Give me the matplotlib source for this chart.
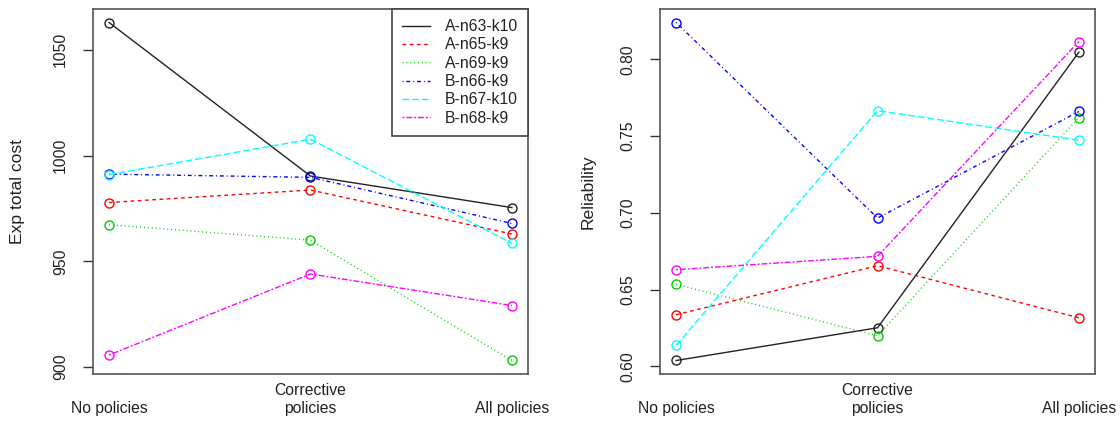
import matplotlib
matplotlib.use('Agg')
import matplotlib.pyplot as plt

plt.rcParams['font.family'] = ['Liberation Sans', 'DejaVu Sans']

# Категории по оси X
scenarios = ['No policies', 'Corrective\npolicies', 'All policies']

# Названия серий
series_names = ['A-n63-k10', 'A-n65-k9', 'A-n69-k9', 'B-n66-k9', 'B-n67-k10', 'B-n68-k9']

# Ожидаемая суммарная стоимость
cost_a_n63_k10 = [1062.9, 990.3, 975.4]
cost_a_n65_k9 = [977.8, 983.7, 962.9]
cost_a_n69_k9 = [967.3, 960.0, 903.1]
cost_b_n66_k9 = [991.2, 989.7, 967.9]
cost_b_n67_k10 = [991.0, 1007.7, 958.5]
cost_b_n68_k9 = [905.7, 944.0, 929.1]

# Надёжность
rel_a_n63_k10 = [0.6039, 0.6252, 0.8046]
rel_a_n65_k9 = [0.6337, 0.6656, 0.6317]
rel_a_n69_k9 = [0.6535, 0.6200, 0.7620]
rel_b_n66_k9 = [0.8239, 0.6966, 0.7660]
rel_b_n67_k10 = [0.6137, 0.7665, 0.7473]
rel_b_n68_k9 = [0.6630, 0.6717, 0.8115]

cost_series = [cost_a_n63_k10, cost_a_n65_k9, cost_a_n69_k9,
               cost_b_n66_k9, cost_b_n67_k10, cost_b_n68_k9]
rel_series = [rel_a_n63_k10, rel_a_n65_k9, rel_a_n69_k9,
              rel_b_n66_k9, rel_b_n67_k10, rel_b_n68_k9]

# Стили как в R: lty 1..6, цвета 1..6
colors = ['#222222', '#FF0000', '#00CD00', '#0000FF', '#00FFFF', '#FF00FF']
styles = ['-', (0, (2.6, 2.6)), (0, (0.7, 2.1)), (0, (0.7, 2.1, 2.8, 2.1)),
          (0, (4.9, 2.1)), (0, (1.4, 1.4, 4.2, 1.4))]

fig = plt.figure(figsize=(11.2, 4.22), dpi=100)
ax1 = fig.add_axes([0.0830, 0.1137, 0.3884, 0.865])
ax2 = fig.add_axes([0.5893, 0.1137, 0.3884, 0.865])

x = [1, 2, 3]
fs = 11.3
fs_lab = 12.6
txt_col = '#222222'

for ax, data, ylabel in [(ax1, cost_series, 'Exp total cost'),
                         (ax2, rel_series, 'Reliability')]:
    for vals, name, col, ls in zip(data, series_names, colors, styles):
        ax.plot(x, vals, color=col, linestyle=ls, linewidth=1.0,
                marker='o', markersize=6.5, markerfacecolor='none',
                markeredgewidth=1.0, label=name)

    # Поля как в R (4%)
    lo = min(min(v) for v in data)
    hi = max(max(v) for v in data)
    pad = (hi - lo) * 0.04
    ax.set_ylim(lo - pad, hi + pad)
    ax.set_xlim(0.92, 3.08)

    ax.set_xticks(x)
    ax.set_xticklabels(scenarios, fontsize=fs, color=txt_col, linespacing=1.25)
    for lbl in ax.get_xticklabels():
        lbl.set_verticalalignment('bottom')
    ax.tick_params(axis='x', length=0, pad=30)
    ax.tick_params(axis='y', length=7.5, width=1.0, pad=10.5, labelsize=fs,
                   labelcolor=txt_col, labelrotation=90, color='#333333')

    for sp in ax.spines.values():
        sp.set_color('#555555')
        sp.set_linewidth(1.2)

    ax.set_ylabel(ylabel, fontsize=fs_lab, color=txt_col)

ax1.set_yticks([900, 950, 1000, 1050])
ax2.set_yticks([0.60, 0.65, 0.70, 0.75, 0.80])
ax2.set_yticklabels(['0.60', '0.65', '0.70', '0.75', '0.80'])
for ax in (ax1, ax2):
    for lbl in ax.get_yticklabels():
        lbl.set_verticalalignment('center')

ax1.yaxis.set_label_coords(-0.156, 0.5)
ax2.yaxis.set_label_coords(-0.147, 0.5)

leg = ax1.legend(loc='upper right', borderaxespad=0, fontsize=fs,
                 fancybox=False, framealpha=1, edgecolor='#444444',
                 handlelength=1.8, handletextpad=0.9, labelspacing=0.21,
                 borderpad=0.65)
leg.get_frame().set_linewidth(1.2)
for t in leg.get_texts():
    t.set_color(txt_col)
for h in leg.legend_handles:
    h.set_marker('')

fig.savefig('out.png', dpi=100)
